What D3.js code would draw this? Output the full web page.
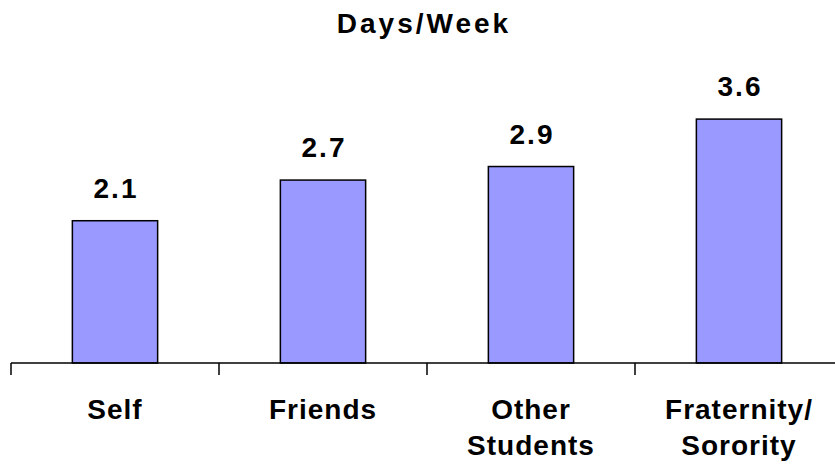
<!DOCTYPE html>
<html>
<head>
<meta charset="utf-8">
<script src="https://cdn.jsdelivr.net/npm/d3@7"></script>
<style>
	body { margin: 0; background: #fff; }
	text { font-family: Arial, "Liberation Sans", sans-serif; font-weight: bold; fill: #000; }
</style>
</head>
<body>
<div class="chart"></div>
<script>
var categories = [['Self'], ['Friends'], ['Other', 'Students'], ['Fraternity/', 'Sorority']];
var values = [2.1, 2.7, 2.9, 3.6];
var labels = ['2.1', '2.7', '2.9', '3.6'];
var title = 'Days/Week';

var width = 835;
var height = 466;
var baseY = 363;

var svg = d3.select('.chart').append('svg')
	.attr('width', width)
	.attr('height', height)
	.attr('viewBox', `0 0 ${width} ${height}`);

var x = d3.scaleBand()
	.domain(d3.range(categories.length))
	.range([11, 843])
	.paddingInner(0.59)
	.paddingOuter(0.295);

var y = d3.scaleLinear()
	.domain([0, 4])
	.range([baseY, 92]);

svg.append('text')
	.attr('x', 424)
	.attr('y', 33)
	.attr('text-anchor', 'middle')
	.style('font-size', '28px')
	.style('letter-spacing', '3px')
	.text(title);

svg.selectAll('rect.bar')
	.data(values)
	.enter()
	.append('rect')
	.attr('class', 'bar')
	.attr('x', function(d, i) { return x(i); })
	.attr('y', function(d) { return y(d); })
	.attr('width', x.bandwidth())
	.attr('height', function(d) { return baseY - y(d); })
	.attr('fill', '#9999ff')
	.attr('stroke', '#000')
	.attr('stroke-width', 1.5);

svg.selectAll('text.val')
	.data(values)
	.enter()
	.append('text')
	.attr('class', 'val')
	.attr('x', function(d, i) { return x(i) + x.bandwidth() / 2 + 1; })
	.attr('y', function(d) { return y(d) - 23; })
	.attr('text-anchor', 'middle')
	.style('font-size', '28px')
	.style('letter-spacing', '2px')
	.text(function(d, i) { return labels[i]; });

// category axis: line plus ticks between categories
var step = x.step();
svg.append('line')
	.attr('x1', 11).attr('x2', width)
	.attr('y1', baseY).attr('y2', baseY)
	.attr('stroke', '#000')
	.attr('stroke-width', 1.5);

svg.selectAll('line.tick')
	.data(d3.range(categories.length + 1))
	.enter()
	.append('line')
	.attr('class', 'tick')
	.attr('x1', function(i) { return 11 + i * step; })
	.attr('x2', function(i) { return 11 + i * step; })
	.attr('y1', baseY)
	.attr('y2', baseY + 12)
	.attr('stroke', '#000')
	.attr('stroke-width', 1.5);

var cat = svg.selectAll('text.cat')
	.data(categories)
	.enter()
	.append('text')
	.attr('class', 'cat')
	.attr('text-anchor', 'middle')
	.style('font-size', '28px')
	.style('letter-spacing', '1px');

cat.selectAll('tspan')
	.data(function(d, i) { return d.map(function(s) { return { s: s, i: i }; }); })
	.enter()
	.append('tspan')
	.attr('x', function(d) { return x(d.i) + x.bandwidth() / 2; })
	.attr('y', function(d, j) { return 419 + j * 36; })
	.text(function(d) { return d.s; });
</script>
</body>
</html>
